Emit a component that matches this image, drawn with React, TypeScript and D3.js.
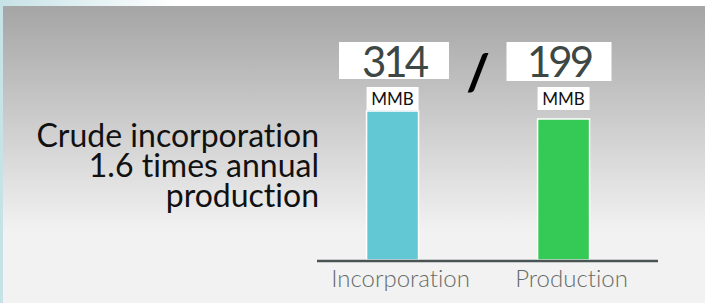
import React, { useEffect, useRef } from "react";
import * as d3 from "d3";

// chart data
const categories = ["Incorporation", "Production"];
const values = [314, 199];
const units = ["MMB", "MMB"];
const barColors = ["#62c8d4", "#35c955"];
const titleLines = ["Crude incorporation", "1.6 times annual", "production"];
// bars in the source are not drawn from zero
const yDomain = [-1830, 314];

const App = () => {
  const svgRef = useRef<SVGSVGElement>(null);
  const width = 705;
  const height = 303;

  useEffect(() => {
    const svg = d3.select(svgRef.current);
    svg.selectAll("*").remove();
    svg.attr("width", width).attr("height", height)
      .style("font-variant-ligatures", "none");

    const defs = svg.append("defs");
    const frameGrad = defs.append("linearGradient").attr("id", "frameGrad")
      .attr("x1", 0).attr("x2", 1).attr("y1", 0).attr("y2", 0);
    frameGrad.append("stop").attr("offset", "0%").attr("stop-color", "#c6e2e6");
    frameGrad.append("stop").attr("offset", "25%").attr("stop-color", "#ffffff");

    const panelGrad = defs.append("linearGradient").attr("id", "panelGrad")
      .attr("x1", 0).attr("x2", 0).attr("y1", 0).attr("y2", 1);
    panelGrad.append("stop").attr("offset", "0%").attr("stop-color", "#a5a5a5");
    panelGrad.append("stop").attr("offset", "76%").attr("stop-color", "#f2f2f2");
    panelGrad.append("stop").attr("offset", "100%").attr("stop-color", "#f2f2f2");

    // background
    svg.append("rect").attr("width", width).attr("height", height).attr("fill", "url(#frameGrad)");
    svg.append("rect").attr("x", 3).attr("y", 6)
      .attr("width", width - 3).attr("height", height - 6)
      .attr("fill", "url(#panelGrad)");

    const axisLeft = 317;
    const axisRight = 658;
    const baseY = 260;

    const x = d3.scaleBand()
      .domain(categories)
      .range([axisLeft, axisRight])
      .paddingInner(0.696)
      .paddingOuter(0.345)
      .align(0.42);

    const y = d3.scaleLinear().domain(yDomain).range([baseY, 111]);

    const data = categories.map((c, i) => ({ name: c, value: values[i], unit: units[i], color: barColors[i] }));

    // bars
    svg.selectAll(".bar")
      .data(data)
      .enter()
      .append("rect")
      .attr("class", "bar")
      .attr("x", (d) => x(d.name)!)
      .attr("y", (d) => y(d.value))
      .attr("width", x.bandwidth())
      .attr("height", (d) => baseY - y(d.value))
      .attr("fill", (d) => d.color)
      .attr("stroke", "#ffffff")
      .attr("stroke-width", 1.5);

    // axis line
    svg.append("line")
      .attr("x1", axisLeft).attr("x2", axisRight)
      .attr("y1", baseY + 1).attr("y2", baseY + 1)
      .attr("stroke", "#4a5553").attr("stroke-width", 2.5);

    // category labels
    svg.selectAll(".cat")
      .data(data)
      .enter()
      .append("text")
      .attr("class", "cat")
      .attr("x", (d) => x(d.name)! + x.bandwidth() / 2 + 8)
      .attr("y", 287)
      .attr("text-anchor", "middle")
      .attr("font-family", "Lato, sans-serif")
      .attr("font-weight", 300)
      .attr("font-size", 24)
      .attr("fill", "#666c6a")
      .text((d) => d.name);

    // unit boxes
    const unitBox = svg.selectAll(".unit")
      .data(data)
      .enter()
      .append("g")
      .attr("class", "unit")
      .attr("transform", (d) => `translate(${x(d.name)! + x.bandwidth() / 2},0)`);
    unitBox.append("rect")
      .attr("x", -26).attr("y", 87).attr("width", 52).attr("height", 23)
      .attr("fill", "#ffffff");
    unitBox.append("text")
      .attr("y", 105)
      .attr("text-anchor", "middle")
      .attr("font-family", "Lato, sans-serif")
      .attr("font-size", 17)
      .attr("fill", "#111")
      .text((d) => d.unit);

    // value boxes
    const valueCenters = [394, 559];
    const valueWidths = [110, 105];
    const valueBox = svg.selectAll(".val")
      .data(data)
      .enter()
      .append("g")
      .attr("class", "val")
      .attr("transform", (d, i) => `translate(${valueCenters[i]},0)`);
    valueBox.append("rect")
      .attr("x", (d, i) => -valueWidths[i] / 2)
      .attr("y", 42)
      .attr("width", (d, i) => valueWidths[i])
      .attr("height", (d, i) => (i === 0 ? 37 : 39))
      .attr("fill", "#ffffff");
    valueBox.append("text")
      .attr("y", 77)
      .attr("text-anchor", "middle")
      .attr("font-family", "Lato, sans-serif")
      .attr("font-size", 42)
      .attr("letter-spacing", -3)
      .attr("fill", "#3d4845")
      .text((d) => d.value);

    // slash between the two numbers
    svg.append("text")
      .attr("x", 478).attr("y", 90)
      .attr("text-anchor", "middle")
      .attr("font-family", "Lato, sans-serif")
      .attr("font-weight", 900)
      .attr("font-size", 50)
      .attr("fill", "#000")
      .text("/");

    // headline
    svg.append("text")
      .attr("text-anchor", "end")
      .attr("font-family", "Lato, sans-serif")
      .attr("font-size", 32)
      .attr("fill", "#111")
      .selectAll("tspan")
      .data(titleLines)
      .enter()
      .append("tspan")
      .attr("x", 319)
      .attr("y", (d, i) => 147 + i * 30)
      .text((d) => d);
  }, []);

  return (
    <div style={{ position: "fixed", left: 0, top: 0 }}>
      <svg ref={svgRef} style={{ display: "block" }}></svg>
    </div>
  );
};

export default App;
